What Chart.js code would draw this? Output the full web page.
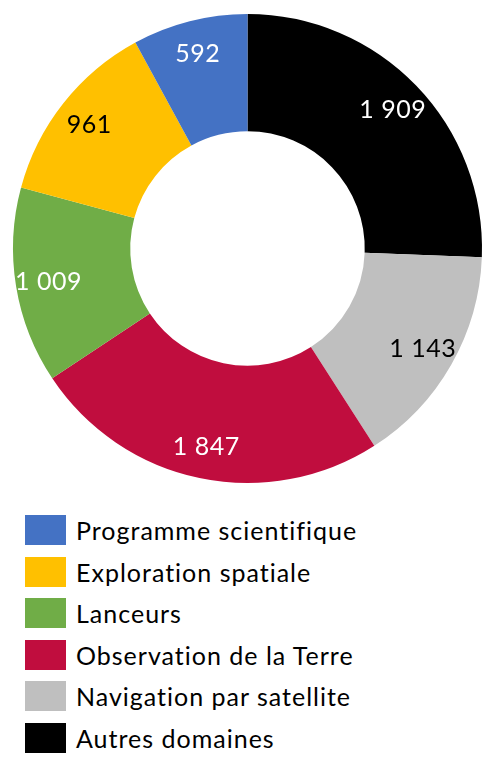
<!DOCTYPE html>
<html>
<head>
<meta charset="utf-8">
<script src="https://cdn.jsdelivr.net/npm/chart.js@4/dist/chart.umd.min.js"></script>
<style>
  html, body { margin: 0; padding: 0; background: #ffffff; }
  body { width: 496px; height: 775px; position: relative; overflow: hidden; font-family: Lato, "Open Sans", sans-serif; }
  #wrap { position: absolute; left: 0; top: 0; width: 496px; height: 497px; }
  #legend { position: absolute; left: 25px; top: 515px; }
  .row { height: 41.6px; display: flex; align-items: flex-start; }
  .box { width: 41px; height: 30px; flex: none; }
  .lbl { margin-left: 10px; font-size: 25px; line-height: 30px; color: #000; white-space: nowrap; letter-spacing: 1px; font-variant-ligatures: none; }
</style>
</head>
<body>
<div id="wrap"><canvas id="c"></canvas></div>
<div id="legend"></div>
<script>
// Data in drawing order (clockwise from 12 o'clock)
const categories = ["Autres domaines", "Navigation par satellite", "Observation de la Terre", "Lanceurs", "Exploration spatiale", "Programme scientifique"];
const values = [1909, 1143, 1847, 1009, 961, 592];
const sliceColors = ["#000000", "#BFBFBF", "#C00D3E", "#70AD47", "#FFC000", "#4472C4"];
const labelColors = ["#FFFFFF", "#000000", "#FFFFFF", "#FFFFFF", "#000000", "#FFFFFF"];

function fmt(v) { return String(v).replace(/\B(?=(\d{3})+(?!\d))/g, " "); }

const sliceLabels = {
  id: "sliceLabels",
  afterDatasetsDraw(chart) {
    const ctx = chart.ctx;
    const meta = chart.getDatasetMeta(0);
    ctx.save();
    ctx.font = "25px Lato, 'Open Sans', sans-serif";
    ctx.letterSpacing = "0.5px";
    ctx.textAlign = "center";
    ctx.textBaseline = "alphabetic";
    meta.data.forEach((arc, i) => {
      const p = arc.getProps(["x", "y", "startAngle", "endAngle", "innerRadius", "outerRadius"], true);
      const mid = (p.startAngle + p.endAngle) / 2;
      const r = p.innerRadius + (p.outerRadius - p.innerRadius) * 0.72;
      const tx = p.x + Math.cos(mid) * r;
      const ty = p.y + Math.sin(mid) * r;
      const txt = fmt(chart.data.datasets[0].data[i]);
      const m = ctx.measureText(txt);
      ctx.fillStyle = labelColors[i];
      ctx.fillText(txt, tx, ty + m.actualBoundingBoxAscent / 2);
    });
    ctx.restore();
  }
};

new Chart(document.getElementById("c"), {
  type: "doughnut",
  data: {
    labels: categories,
    datasets: [{
      data: values,
      backgroundColor: sliceColors,
      borderWidth: 0,
      hoverOffset: 0
    }]
  },
  options: {
    responsive: true,
    maintainAspectRatio: false,
    animation: false,
    cutout: "50%",
    layout: { padding: { left: 13, right: 14, top: 14, bottom: 14 } },
    plugins: {
      legend: { display: false },
      tooltip: { enabled: false }
    }
  },
  plugins: [sliceLabels]
});

// HTML legend (reverse of drawing order)
const legend = document.getElementById("legend");
for (let i = categories.length - 1; i >= 0; i--) {
  const row = document.createElement("div");
  row.className = "row";
  const box = document.createElement("div");
  box.className = "box";
  box.style.background = sliceColors[i];
  const lbl = document.createElement("div");
  lbl.className = "lbl";
  lbl.textContent = categories[i];
  row.appendChild(box);
  row.appendChild(lbl);
  legend.appendChild(row);
}
</script>
</body>
</html>
